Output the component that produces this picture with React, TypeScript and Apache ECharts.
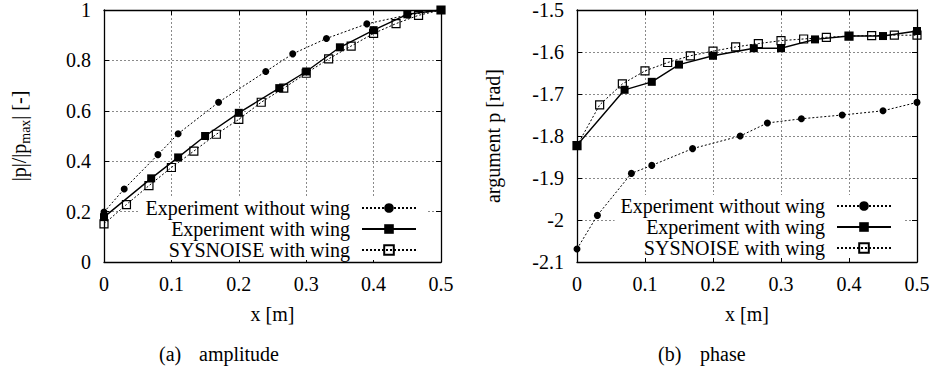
import React, { useEffect, useRef } from 'react';
import * as echarts from 'echarts';

// x positions (m)
const xWithout = [0, 0.03, 0.08, 0.11, 0.17, 0.24, 0.28, 0.33, 0.39, 0.45, 0.5];
const xWith = [0, 0.07, 0.11, 0.15, 0.2, 0.26, 0.3, 0.35, 0.4, 0.45, 0.5];
const xSys = [0, 0.0333, 0.0667, 0.1, 0.1333, 0.1667, 0.2, 0.2333, 0.2667, 0.3, 0.3333, 0.3667, 0.4, 0.4333, 0.4667, 0.5];

// amplitude |p|/|pmax|
const ampWithout = [0.198, 0.29, 0.426, 0.509, 0.634, 0.756, 0.826, 0.887, 0.945, 0.98, 1.0];
const ampWith = [0.178, 0.332, 0.415, 0.5, 0.592, 0.69, 0.756, 0.852, 0.92, 0.983, 1.0];
const ampSys = [0.151, 0.228, 0.303, 0.375, 0.44, 0.507, 0.566, 0.634, 0.69, 0.749, 0.806, 0.857, 0.907, 0.946, 0.979, 1.0];

// phase (rad)
const phaseWithout = [-2.069, -1.989, -1.889, -1.87, -1.83, -1.8, -1.769, -1.759, -1.75, -1.74, -1.72];
const phaseWith = [-1.822, -1.69, -1.671, -1.63, -1.609, -1.591, -1.591, -1.57, -1.562, -1.562, -1.55];
const phaseSys = [-1.823, -1.726, -1.676, -1.645, -1.625, -1.609, -1.598, -1.588, -1.58, -1.573, -1.569, -1.565, -1.562, -1.561, -1.56, -1.56];

const seriesNames = ['Experiment without wing', 'Experiment with wing', 'SYSNOISE with wing'];

const FONT = '"Liberation Serif", "Times New Roman", serif';
const BLACK = '#000';

const pairs = (xs: number[], ys: number[]) => xs.map((x, i) => [x, ys[i]]);

function xAxes(gridIndex: number) {
  const base = {
    gridIndex,
    type: 'value',
    min: 0,
    max: 0.5,
    interval: 0.1,
    axisLine: { show: true, onZero: false, lineStyle: { color: BLACK, width: 1.3 } },
    axisTick: { show: true, inside: true, length: 5, lineStyle: { color: BLACK, width: 1 } },
  };
  return [
    {
      ...base,
      position: 'bottom',
      name: 'x [m]',
      nameLocation: 'middle',
      nameGap: 42,
      nameTextStyle: { fontFamily: FONT, fontSize: 20, color: BLACK },
      axisLabel: {
        margin: 12,
        fontFamily: FONT,
        fontSize: 20,
        color: BLACK,
        formatter: (v: number) => String(Math.round(v * 10) / 10),
      },
      splitLine: { show: true, lineStyle: { type: [2, 2], color: '#8a8a8a', width: 1 } },
    },
    {
      ...base,
      position: 'top',
      axisLabel: { show: false },
      splitLine: { show: false },
    },
  ];
}

function yAxes(gridIndex: number, min: number, max: number, interval: number, name: string, nameGap: number, rich?: any) {
  const base = {
    gridIndex,
    type: 'value',
    min,
    max,
    interval,
    axisLine: { show: true, onZero: false, lineStyle: { color: BLACK, width: 1.3 } },
    axisTick: { show: true, inside: true, length: 5, lineStyle: { color: BLACK, width: 1 } },
  };
  return [
    {
      ...base,
      position: 'left',
      name,
      nameLocation: 'middle',
      nameRotate: 90,
      nameGap,
      nameTextStyle: { fontFamily: FONT, fontSize: 20, color: BLACK, ...(rich ? { rich } : {}) },
      axisLabel: {
        margin: 13,
        fontFamily: FONT,
        fontSize: 20,
        color: BLACK,
        formatter: (v: number) => String(Math.round(v * 10) / 10),
      },
      splitLine: { show: true, lineStyle: { type: [2, 2], color: '#8a8a8a', width: 1 } },
    },
    {
      ...base,
      position: 'right',
      axisLabel: { show: false },
      splitLine: { show: false },
    },
  ];
}

function seriesFor(xi: number, yi: number, without: number[], withW: number[], sys: number[]) {
  return [
    {
      name: seriesNames[2],
      type: 'line',
      xAxisIndex: xi,
      yAxisIndex: yi,
      data: pairs(xSys, sys),
      symbol: 'rect',
      symbolSize: 8,
      showSymbol: true,
      lineStyle: { type: [2, 2], width: 1, color: BLACK },
      itemStyle: { color: 'rgba(255,255,255,0)', borderColor: BLACK, borderWidth: 1.2 },
      emphasis: { disabled: true },
      z: 2,
    },
    {
      name: seriesNames[0],
      type: 'line',
      xAxisIndex: xi,
      yAxisIndex: yi,
      data: pairs(xWithout, without),
      symbol: 'circle',
      symbolSize: 7,
      showSymbol: true,
      lineStyle: { type: [2, 2], width: 1, color: BLACK },
      itemStyle: { color: BLACK },
      emphasis: { disabled: true },
      z: 3,
    },
    {
      name: seriesNames[1],
      type: 'line',
      xAxisIndex: xi,
      yAxisIndex: yi,
      data: pairs(xWith, withW),
      symbol: 'rect',
      symbolSize: 8,
      showSymbol: true,
      lineStyle: { type: 'solid', width: 1.4, color: BLACK },
      itemStyle: { color: BLACK },
      emphasis: { disabled: true },
      z: 4,
    },
  ];
}

function legendAt(right: number, top: number) {
  return {
    orient: 'vertical',
    align: 'right',
    right,
    top,
    itemWidth: 54,
    itemHeight: 12,
    itemGap: 1,
    padding: [1, 11, 0, 6],
    backgroundColor: '#fff',
    selectedMode: false,
    textStyle: { fontFamily: FONT, fontSize: 20, color: BLACK, padding: [0, 7, 0, 0] },
    data: seriesNames,
    z: 5,
  };
}

export default function App() {
  const ref = useRef<HTMLDivElement>(null);
  useEffect(() => {
    if (!ref.current) return;
    const chart = echarts.init(ref.current, undefined, { renderer: 'svg' });
    const ampRich = {
      a: { fontFamily: FONT, fontSize: 20, color: BLACK, lineHeight: 26 },
      s: { fontFamily: FONT, fontSize: 14, color: BLACK, lineHeight: 14, verticalAlign: 'bottom' },
    };
    chart.setOption({
      animation: false,
      backgroundColor: '#fff',
      textStyle: { fontFamily: FONT },
      grid: [
        { left: 104, top: 8, width: 337, height: 254 },
        { left: 577, top: 6, width: 340, height: 256 },
      ],
      xAxis: [...xAxes(0), ...xAxes(1)],
      yAxis: [
        ...yAxes(0, 0, 1, 0.2, '{a||p|/|p}{s|max}{a|| [-]}', 72, ampRich),
        ...yAxes(1, -2.1, -1.5, 0.1, 'argument p [rad]', 74),
      ],
      legend: [legendAt(506, 197), legendAt(31, 195)],
      series: [
        ...seriesFor(0, 0, ampWithout, ampWith, ampSys),
        ...seriesFor(2, 2, phaseWithout, phaseWith, phaseSys),
      ],
      graphic: [
        { type: 'text', left: 159, top: 344, style: { text: '(a)', fontFamily: FONT, fontSize: 20, fill: BLACK } },
        { type: 'text', left: 199, top: 344, style: { text: 'amplitude', fontFamily: FONT, fontSize: 20, fill: BLACK } },
        { type: 'text', left: 658, top: 344, style: { text: '(b)', fontFamily: FONT, fontSize: 20, fill: BLACK } },
        { type: 'text', left: 700, top: 344, style: { text: 'phase', fontFamily: FONT, fontSize: 20, fill: BLACK } },
      ],
    });
    return () => chart.dispose();
  }, []);
  return <div ref={ref} style={{ position: 'absolute', left: 0, top: 0, width: 934, height: 375 }} />;
}
